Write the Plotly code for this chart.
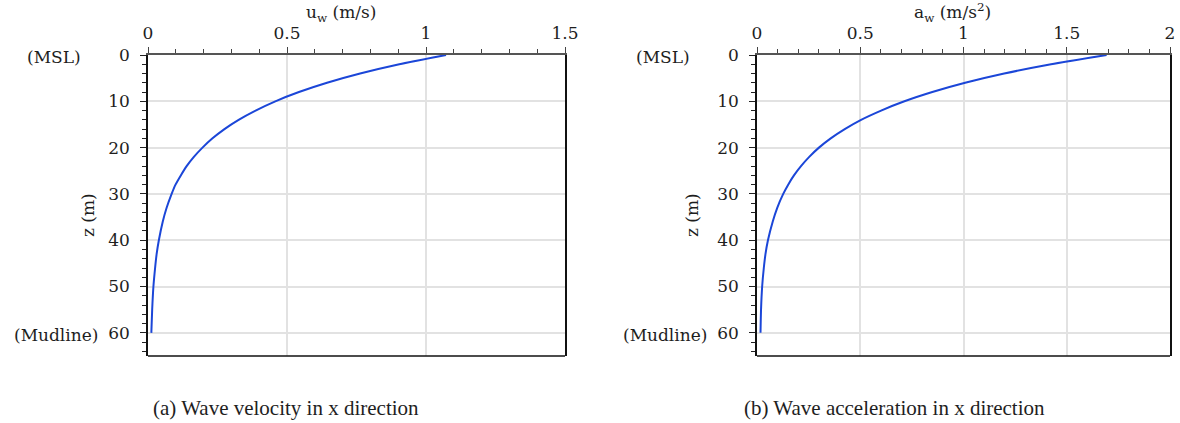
import plotly.graph_objects as go

# ---- data ----
z_depth = [0, 2, 4, 6, 8, 10, 12, 14, 16, 18, 20, 22, 24, 26, 28, 30, 33, 36, 40, 43, 46, 50, 55, 60]
u_w = [1.072, 0.904, 0.763, 0.644, 0.543, 0.458, 0.387, 0.326, 0.275, 0.232, 0.196, 0.165,
       0.139, 0.118, 0.099, 0.085, 0.067, 0.053, 0.039, 0.031, 0.0255, 0.0195, 0.015, 0.012]
a_w = [1.693, 1.424, 1.197, 1.008, 0.849, 0.714, 0.601, 0.504, 0.425, 0.357, 0.300, 0.253,
       0.213, 0.179, 0.151, 0.127, 0.098, 0.076, 0.053, 0.041, 0.033, 0.025, 0.0195, 0.017]
y_ticks = [0, 10, 20, 30, 40, 50, 60]
x1_ticks = [0, 0.5, 1, 1.5]
x1_ticktext = ["0", "0.5", "1", "1.5"]
x2_ticks = [0, 0.5, 1, 1.5, 2]
x2_ticktext = ["0", "0.5", "1", "1.5", "2"]

W, H = 1180, 423
FONT = "DejaVu Serif"
TXT = "#1e1e1e"
LINE = "#1b46d8"
GRID = "#e2e2e2"

fig = go.Figure()
fig.add_trace(go.Scatter(x=u_w, y=z_depth, mode="lines", line=dict(color=LINE, width=2, shape="spline", smoothing=0.6),
                         xaxis="x", yaxis="y", showlegend=False))
fig.add_trace(go.Scatter(x=a_w, y=z_depth, mode="lines", line=dict(color=LINE, width=2, shape="spline", smoothing=0.6),
                         xaxis="x2", yaxis="y2", showlegend=False))

def xax(dom, rng, tv, tt, anchor):
    return dict(domain=dom, range=rng, side="top", anchor=anchor, tickmode="array", tickvals=tv, ticktext=tt,
                ticks="outside", ticklen=6, tickcolor="#444", tickwidth=1,
                minor=dict(dtick=0.1, tick0=0, ticks="outside", ticklen=4, tickcolor="#444", showgrid=False),
                showline=True, linecolor="#555", linewidth=1.5, mirror=False,
                showgrid=True, gridcolor=GRID, gridwidth=1.5, zeroline=False, automargin=False,
                tickfont=dict(family=FONT, size=17, color=TXT), ticklabelstandoff=1, fixedrange=True)

def yax(dom, anchor):
    return dict(domain=dom, range=[65, 0], anchor=anchor, tickmode="array", tickvals=y_ticks,
                ticks="outside", ticklen=6, tickcolor="#222", tickwidth=1,
                minor=dict(dtick=2, tick0=0, ticks="outside", ticklen=4, tickcolor="#222", showgrid=False),
                showline=True, linecolor="#111", linewidth=1.5, mirror=True,
                showgrid=True, gridcolor=GRID, gridwidth=1.5, zeroline=False, automargin=False,
                tickfont=dict(family=FONT, size=17, color=TXT), ticklabelstandoff=7, fixedrange=True)

ydom = [(H - 356) / H, (H - 55) / H]
fig.update_layout(
    width=W, height=H, margin=dict(l=0, r=0, t=0, b=0),
    paper_bgcolor="white", plot_bgcolor="white",
    xaxis=xax([148 / W, 565 / W], [0, 1.5], x1_ticks, x1_ticktext, "y"),
    yaxis=yax(ydom, "x"),
    xaxis2=xax([757 / W, 1170 / W], [0, 2], x2_ticks, x2_ticktext, "y2"),
    yaxis2=yax(ydom, "x2"),
)

# bottom borders
for xr, yr in (("x domain", "y domain"), ("x2 domain", "y2 domain")):
    fig.add_shape(type="line", xref=xr, yref=yr, x0=0, x1=1, y0=0, y1=0, line=dict(color="#111", width=1.5))

def ann(text, x, y, size=17, angle=0, family=FONT):
    fig.add_annotation(text=text, x=x / W, y=1 - y / H, xref="paper", yref="paper", showarrow=False,
                       xanchor="center", yanchor="middle", textangle=angle,
                       font=dict(family=family, size=size, color=TXT))

ann("u<sub>w</sub> (m/s)", 341, 13)
ann("a<sub>w</sub> (m/s<sup>2</sup>)", 952, 12)
ann("z (m)", 88, 215, angle=-90)
ann("z (m)", 692, 215, angle=-90)
ann("(MSL)", 54, 57)
ann("(Mudline)", 56, 335)
ann("(MSL)", 663, 57)
ann("(Mudline)", 665, 335)
ann("(a) Wave velocity in x direction", 286, 408, size=21, family="Liberation Serif")
ann("(b) Wave acceleration in x direction", 894, 408, size=21, family="Liberation Serif")

fig.write_html("out.html")
